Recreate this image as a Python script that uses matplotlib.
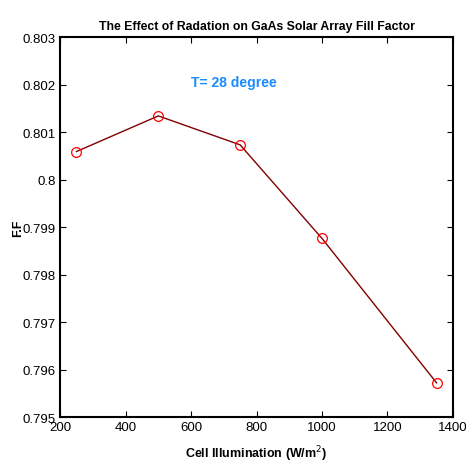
import numpy as np
import matplotlib
matplotlib.use('Agg')
import matplotlib.pyplot as plt

plt.rcParams['font.family'] = ['Liberation Sans', 'DejaVu Sans']

# data
illum = [250, 500, 750, 1000, 1350]
ff = [0.80059, 0.80134, 0.80073, 0.79876, 0.79572]

xticks = [200, 400, 600, 800, 1000, 1200, 1400]
yticks = [0.795, 0.796, 0.797, 0.798, 0.799, 0.8, 0.801, 0.802, 0.803]
ytick_labels = ['0.795', '0.796', '0.797', '0.798', '0.799', '0.8', '0.801', '0.802', '0.803']

fig = plt.figure(figsize=(4.66, 4.64), dpi=100)
ax = fig.add_axes([0.129, 0.099, 0.843, 0.819])

ax.plot(illum, ff, color='#800000', linewidth=1)
ax.plot(illum, ff, 'o', markerfacecolor='none', markeredgecolor='red', markersize=7, markeredgewidth=0.9)

ax.set_xlim(200, 1400)
ax.set_ylim(0.795, 0.803)
ax.set_xticks(xticks)
ax.set_yticks(yticks)
ax.set_yticklabels(ytick_labels)
ax.tick_params(direction='in', top=True, right=True, labelsize=9.5, length=4, width=0.8, pad=3)
for s in ax.spines.values():
    s.set_linewidth(1.5)

ax.text(600, 0.80197, 'T= 28 degree', color='#1a8cff', fontsize=10, fontweight='bold')

ax.set_title('The Effect of Radation on GaAs Solar Array Fill Factor', fontsize=8.8, fontweight='bold')
ax.set_xlabel('Cell Illumination (W/m$^2$)', fontsize=9, fontweight='bold', labelpad=7)
ax.set_ylabel('F.F', fontsize=9, fontweight='bold', labelpad=-1)

plt.savefig('out.png', dpi=100)
